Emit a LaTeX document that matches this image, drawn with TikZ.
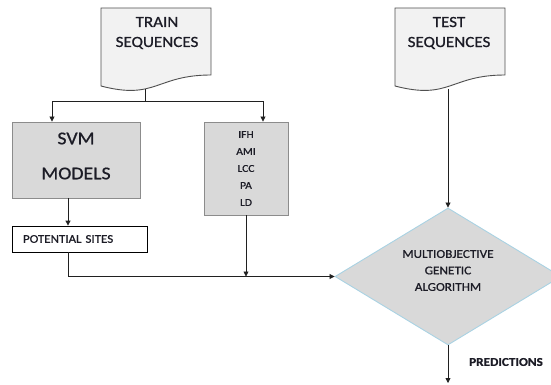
\documentclass[tikz,border=0pt]{standalone}
\usepackage{fontspec}
\setmainfont{Carlito}[FakeStretch=1.1,FakeBold=0.8]
\usetikzlibrary{shapes.geometric,arrows.meta}
\definecolor{inkc}{HTML}{1C1C26}
\definecolor{docfill}{HTML}{F2F2F2}
\definecolor{docedge}{HTML}{505050}
\definecolor{boxfill}{HTML}{D9D9D9}
\definecolor{boxedge}{HTML}{8C8C8C}
\definecolor{diaedge}{HTML}{A9D2E3}
\definecolor{wirec}{HTML}{202020}
\begin{document}
\begin{tikzpicture}[x=1pt,y=-1pt,
  docshape/.style={fill=docfill,draw=docedge,line width=0.9pt},
  doctext/.style={text=inkc,align=center,font=\fontsize{15.5}{20}\selectfont},
  graybox/.style={rectangle,fill=boxfill,draw=boxedge,line width=0.9pt,inner sep=0pt},
  whitebox/.style={rectangle,fill=white,draw=black,line width=0.8pt},
  labeltext/.style={text=inkc,align=center},
  wire/.style={draw=wirec,line width=0.8pt},
  arrowline/.style={wire,-{Triangle[length=5pt,width=5pt]}},
  moganode/.style={diamond,fill=boxfill,draw=diaedge,line width=0.9pt,
    minimum width=226pt,minimum height=137pt,inner sep=0pt}
]
\clip (0,0) rectangle (551,385);

% input documents
\path[docshape] (101,8) -- (211,8) -- (211,75)
  .. controls (156,75) and (156,100.4) .. (101,86) -- cycle;
\node[doctext] (train) at (157,33) {TRAIN\\SEQUENCES};
\path[docshape] (395,8) -- (505,8) -- (505,75)
  .. controls (450,75) and (450,100.4) .. (395,86) -- cycle;
\node[doctext] (test) at (449,33) {TEST\\SEQUENCES};
\coordinate (trainfoot) at (145,89);
\coordinate (testfoot) at (448,89);

% processing blocks
\node[graybox,minimum width=128pt,minimum height=76pt,
  label={[labeltext,font=\fontsize{18}{35}\selectfont,yshift=4pt]center:SVM\\MODELS}]
  (svm) at (76,160) {};
\node[graybox,minimum width=84pt,minimum height=93pt,
  label={[labeltext,font=\fontsize{10.5}{17}\selectfont]center:IFH\\AMI\\LCC\\PA\\LD}]
  (feat) at (246,168.5) {};
\node[whitebox,minimum width=135pt,minimum height=26pt,text width=113pt,
  inner xsep=11pt,align=left,text=inkc,font=\fontsize{11.8}{13}\selectfont]
  (sites) at (79.5,239) {POTENTIAL SITES};

% decision diamond
\node[moganode,
  label={[labeltext,font=\fontsize{12}{16.5}\selectfont,yshift=6pt]center:MULTIOBJECTIVE\\GENETIC\\ALGORITHM}]
  (moga) at (448,276.5) {};
\node[text=inkc,font=\fontsize{12}{14}\selectfont\bfseries] (pred) at (506,362) {PREDICTIONS};
\coordinate (out) at (448,383);

% connectors
\coordinate (trainjoin) at (145,101);
\coordinate (leftturn) at (52,101);
\coordinate (rightturn) at (263,101);
\draw[wire] (trainfoot) -- (trainjoin);
\draw[arrowline] (trainjoin) -- (leftturn) -- (svm.north -| leftturn);
\draw[arrowline] (trainjoin) -- (rightturn) -- (feat.north -| rightturn);
\draw[arrowline] (svm.south -| 68,0) -- (sites.north -| 68,0);
\draw[arrowline] (sites.south -| 68,0) |- (moga.west);
\draw[arrowline] (feat.south) -- (feat.south |- moga.west);
\draw[arrowline] (testfoot) -- (moga.north);
\draw[arrowline] (moga.south) -- (out);
\end{tikzpicture}
\end{document}
